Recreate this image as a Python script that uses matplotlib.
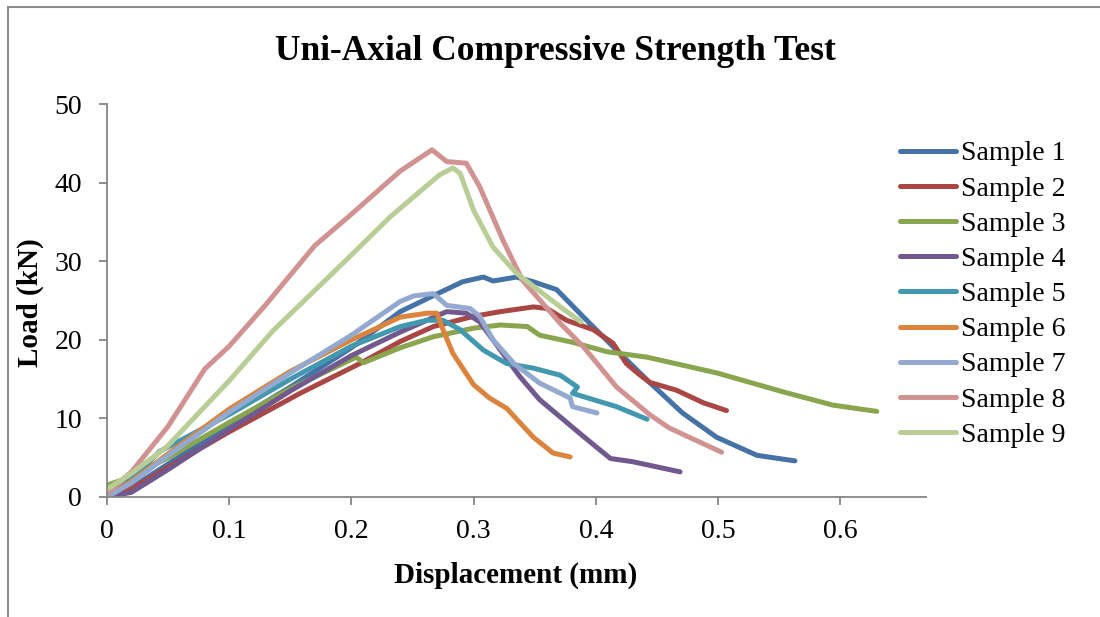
import matplotlib
matplotlib.use("Agg")
import matplotlib.pyplot as plt
from matplotlib.patches import Rectangle

# 読み取ったデータ (変位 mm, 荷重 kN)
s1_x = [0, 0.02, 0.05, 0.1, 0.15, 0.2, 0.24, 0.272, 0.291, 0.308, 0.316, 0.335, 0.349, 0.368, 0.39, 0.417, 0.444, 0.471, 0.499, 0.532, 0.563]
s1_y = [0, 1.2, 4.2, 9.3, 14.0, 19.0, 23.6, 26.0, 27.4, 28.0, 27.5, 28.0, 27.4, 26.4, 22.9, 18.7, 14.6, 10.7, 7.6, 5.3, 4.6]

s2_x = [0, 0.02, 0.05, 0.1, 0.158, 0.207, 0.24, 0.267, 0.3, 0.322, 0.349, 0.36, 0.376, 0.398, 0.414, 0.425, 0.434, 0.444, 0.466, 0.488, 0.507]
s2_y = [0, 1.0, 3.8, 8.3, 13.2, 17.0, 19.8, 21.7, 23.0, 23.6, 24.2, 24.0, 22.5, 21.3, 19.6, 17.0, 15.8, 14.6, 13.6, 12.0, 11.0]

s3_x = [0, 0.02, 0.05, 0.1, 0.15, 0.204, 0.21, 0.24, 0.267, 0.3, 0.322, 0.344, 0.354, 0.381, 0.409, 0.442, 0.499, 0.553, 0.594, 0.63]
s3_y = [1.5, 2.6, 5.0, 9.5, 13.8, 17.8, 17.1, 19.0, 20.4, 21.5, 21.9, 21.7, 20.6, 19.7, 18.5, 17.8, 15.8, 13.4, 11.7, 10.9]

s4_x = [0, 0.02, 0.05, 0.1, 0.15, 0.2, 0.24, 0.278, 0.294, 0.305, 0.322, 0.338, 0.354, 0.39, 0.412, 0.43, 0.469]
s4_y = [0, 0.6, 3.5, 8.6, 13.5, 18.0, 21.0, 23.6, 23.4, 22.3, 18.7, 15.3, 12.4, 7.7, 4.9, 4.5, 3.2]

s5_x = [0, 0.02, 0.043, 0.1, 0.15, 0.2, 0.24, 0.262, 0.275, 0.289, 0.308, 0.327, 0.349, 0.371, 0.385, 0.381, 0.417, 0.442]
s5_y = [0, 2.2, 5.8, 10.5, 15.0, 19.2, 21.7, 22.5, 22.5, 21.3, 18.7, 17.0, 16.4, 15.5, 14.0, 13.2, 11.5, 9.9]

s6_x = [0, 0.02, 0.05, 0.1, 0.15, 0.2, 0.24, 0.262, 0.27, 0.275, 0.283, 0.3, 0.313, 0.327, 0.349, 0.365, 0.379]
s6_y = [0, 2.0, 5.5, 11.2, 16.0, 20.0, 22.9, 23.4, 23.4, 21.3, 18.3, 14.3, 12.6, 11.3, 7.6, 5.6, 5.1]

s7_x = [0, 0.02, 0.05, 0.1, 0.15, 0.2, 0.24, 0.251, 0.267, 0.278, 0.297, 0.305, 0.316, 0.333, 0.354, 0.379, 0.381, 0.401]
s7_y = [0, 1.8, 5.3, 10.8, 15.8, 20.6, 24.9, 25.6, 25.9, 24.4, 24.0, 23.0, 20.0, 17.0, 14.5, 12.6, 11.5, 10.7]

s8_x = [0, 0.02, 0.05, 0.08, 0.1, 0.13, 0.17, 0.2, 0.24, 0.266, 0.278, 0.294, 0.305, 0.324, 0.34, 0.371, 0.39, 0.417, 0.444, 0.46, 0.503]
s8_y = [0.5, 3.2, 9.0, 16.3, 19.2, 24.5, 32.0, 36.0, 41.5, 44.2, 42.7, 42.5, 39.5, 32.7, 27.6, 22.1, 19.1, 14.0, 10.5, 8.8, 5.7]

s9_x = [0, 0.02, 0.049, 0.1, 0.136, 0.19, 0.232, 0.272, 0.283, 0.289, 0.3, 0.316, 0.335, 0.371, 0.388]
s9_y = [1.0, 3.0, 6.4, 14.8, 21.2, 29.3, 35.7, 41.0, 41.9, 41.2, 36.5, 31.8, 28.5, 24.2, 22.3]

labels = ["Sample 1", "Sample 2", "Sample 3", "Sample 4", "Sample 5",
          "Sample 6", "Sample 7", "Sample 8", "Sample 9"]
colors = ["#4572A7", "#AA4643", "#89A54E", "#71588F", "#4198AF",
          "#DB843D", "#93A9CF", "#D19392", "#B9CD96"]

series = [(s1_x, s1_y), (s2_x, s2_y), (s3_x, s3_y), (s4_x, s4_y), (s5_x, s5_y),
          (s6_x, s6_y), (s7_x, s7_y), (s8_x, s8_y), (s9_x, s9_y)]

plt.rcParams['font.family'] = ['Liberation Serif', 'DejaVu Serif']

fig = plt.figure(figsize=(11, 6.17), dpi=100)
ax = fig.add_axes([0.0973, 0.1945, 0.7442, 0.6365])

for (x, y), c, lab in zip(series, colors, labels):
    ax.plot(x, y, color=c, lw=3.6, label=lab, solid_capstyle='round', solid_joinstyle='round')

ax.set_xlim(0, 0.67)
ax.set_ylim(0, 50)
ax.set_xticks([0, 0.1, 0.2, 0.3, 0.4, 0.5, 0.6])
ax.set_xticklabels(["0", "0.1", "0.2", "0.3", "0.4", "0.5", "0.6"])
ax.set_yticks([0, 10, 20, 30, 40, 50])

for side in ["top", "right"]:
    ax.spines[side].set_visible(False)
for side in ["left", "bottom"]:
    ax.spines[side].set_color("#868686")
    ax.spines[side].set_linewidth(1.3)
ax.tick_params(direction='out', length=6, width=1.3, color="#868686", labelsize=20)
ax.tick_params(axis='y', pad=12)
ax.tick_params(axis='x', pad=10)

fig.text(0.505, 0.916, "Uni-Axial Compressive Strength Test", ha='center', va='center',
         fontsize=25.5, fontweight='bold')
fig.text(0.469, 0.068, "Displacement (mm)", ha='center', va='center', fontsize=21, fontweight='bold')
fig.text(0.028, 0.509, "Load (kN)", ha='center', va='center', fontsize=21,
         fontweight='bold', rotation=90)

ax.legend(loc='upper left', bbox_to_anchor=(900 / 1100, 1 - 141 / 617), bbox_transform=fig.transFigure,
          frameon=False, fontsize=20, handlelength=2.0, handletextpad=0.18,
          labelspacing=0.35, borderpad=0, borderaxespad=0)

# 外枠 (右と下は切れている)
fig.patches.append(Rectangle((8 / 1100, -0.1), 1.2, 1 - 7 / 617 + 0.1, transform=fig.transFigure,
                             fill=False, edgecolor="#8C8C8C", lw=1.5))

fig.savefig("out.png", dpi=100)
